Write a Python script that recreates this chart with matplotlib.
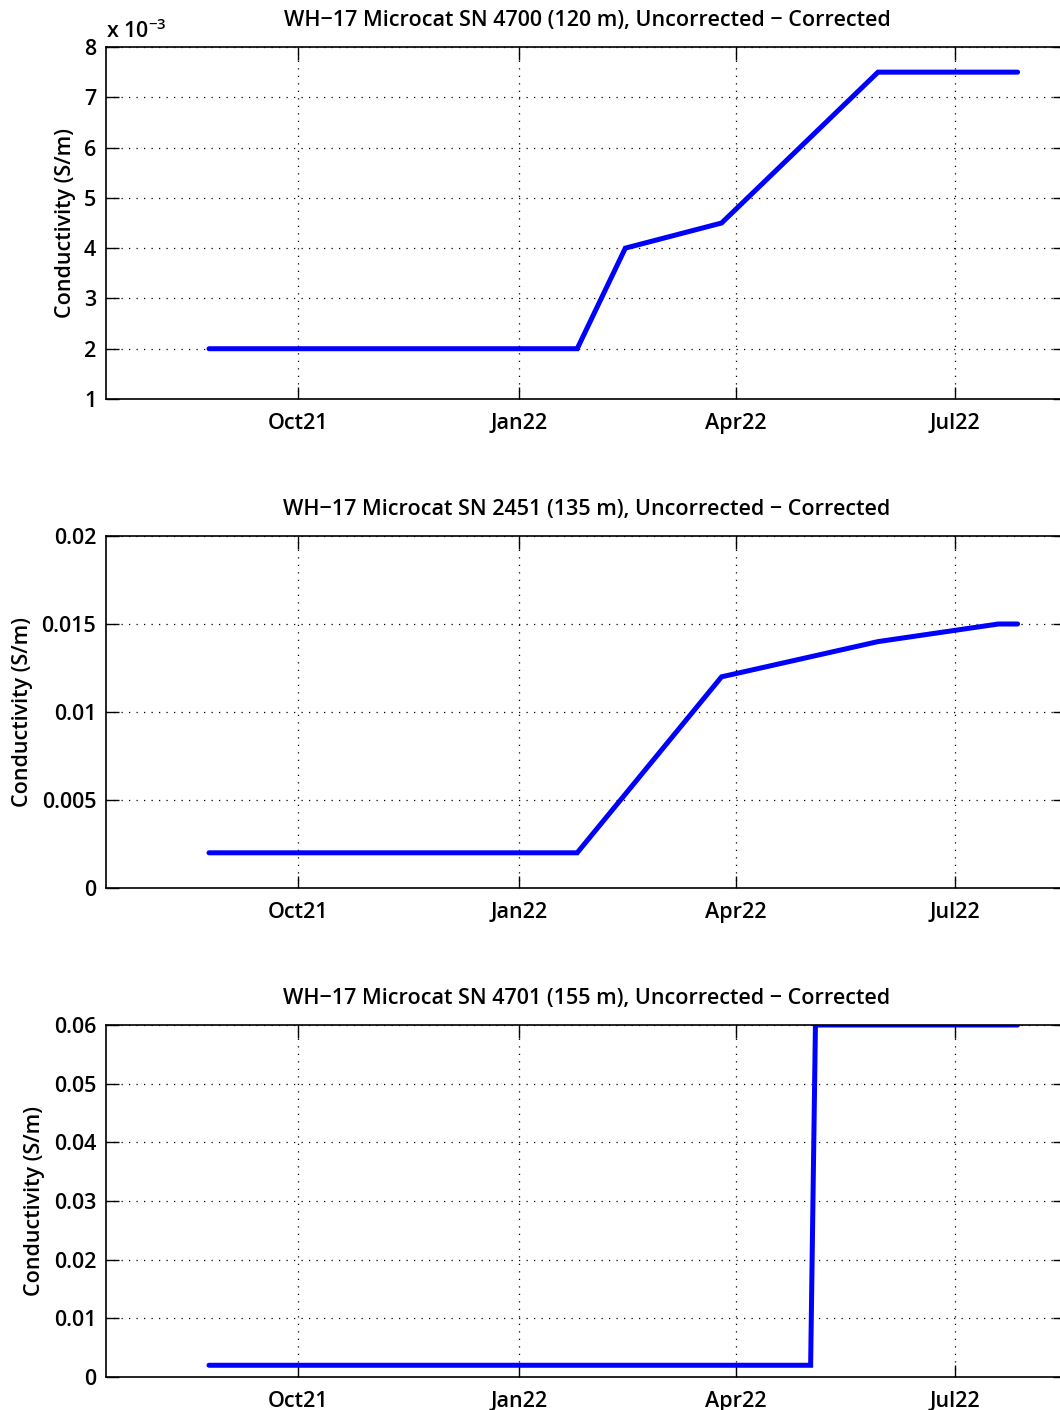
import numpy as np
import matplotlib
matplotlib.use("Agg")
import matplotlib.pyplot as plt
import matplotlib.dates as mdates
from matplotlib.ticker import FixedLocator, FuncFormatter

plt.rcParams['font.family'] = ['Open Sans', 'DejaVu Sans']
plt.rcParams['font.weight'] = 'semibold'
plt.rcParams['mathtext.fontset'] = 'custom'
plt.rcParams['mathtext.rm'] = 'Open Sans:semibold'
plt.rcParams['mathtext.default'] = 'rm'

# difference (uncorrected - corrected) per instrument
titles = [
    "WH\u221217 Microcat SN 4700 (120 m), Uncorrected \u2212 Corrected",
    "WH\u221217 Microcat SN 2451 (135 m), Uncorrected \u2212 Corrected",
    "WH\u221217 Microcat SN 4701 (155 m), Uncorrected \u2212 Corrected",
]

dates_4700 = ["2021-08-25", "2022-01-25", "2022-02-14", "2022-03-26", "2022-05-30", "2022-07-27"]
diff_4700 = [0.002, 0.002, 0.004, 0.0045, 0.0075, 0.0075]

dates_2451 = ["2021-08-25", "2022-01-25", "2022-03-26", "2022-05-30", "2022-07-19", "2022-07-27"]
diff_2451 = [0.002, 0.002, 0.012, 0.014, 0.015, 0.015]

dates_4701 = ["2021-08-25", "2022-05-02", "2022-05-04", "2022-07-27"]
diff_4701 = [0.002, 0.002, 0.06, 0.06]

yticks_4700 = [0.001, 0.002, 0.003, 0.004, 0.005, 0.006, 0.007, 0.008]
yticks_2451 = [0, 0.005, 0.01, 0.015, 0.02]
yticks_4701 = [0, 0.01, 0.02, 0.03, 0.04, 0.05, 0.06]

tick_dates = ["2021-10-01", "2022-01-01", "2022-04-01", "2022-07-01"]
tick_labels = ["Oct21", "Jan22", "Apr22", "Jul22"]

series = [
    (dates_4700, diff_4700, yticks_4700),
    (dates_2451, diff_2451, yticks_2451),
    (dates_4701, diff_4701, yticks_4701),
]

W, H = 1060, 1410
fig = plt.figure(figsize=(W / 100, H / 100), dpi=100)

x0 = mdates.datestr2num("2021-10-01")
xlim = (x0 - 79.8, x0 + 318.7)
tops = [47, 536, 1025]
ax_h = 352
fs = 15.5

def to_num(ds):
    return mdates.datestr2num(ds)

for i, (dts, vals, yt) in enumerate(series):
    top = tops[i]
    ax = fig.add_axes([106 / W, 1 - (top + ax_h) / H, (1065 - 106) / W, ax_h / H])
    ax.plot(to_num(dts), vals, color=(0, 0, 1), lw=3.6, solid_capstyle='round',
            solid_joinstyle='miter')
    ax.set_xlim(*xlim)
    ax.set_ylim(yt[0], yt[-1])
    ax.xaxis.set_major_locator(FixedLocator(to_num(tick_dates)))
    ax.set_xticklabels(tick_labels)
    ax.yaxis.set_major_locator(FixedLocator(yt))
    if i == 0:
        ax.yaxis.set_major_formatter(FuncFormatter(lambda v, p: f"{v * 1e3:.0f}"))
        ax.text(0, 1.012, "x 10$^{\u22123}$", transform=ax.transAxes,
                fontsize=fs, fontweight='semibold', ha='left', va='bottom')
    else:
        ax.yaxis.set_major_formatter(FuncFormatter(lambda v, p: f"{v:g}"))
    ax.grid(True, color='black', linestyle=(0, (1, 5)), linewidth=0.9)
    ax.tick_params(direction='in', length=9, width=1, top=True, right=True,
                   labelsize=fs, pad=7)
    ax.tick_params(axis='x', pad=10)
    for lab in ax.get_xticklabels() + ax.get_yticklabels():
        lab.set_fontweight('semibold')
    for s in ax.spines.values():
        s.set_linewidth(1.2)
    ax.set_title(titles[i], fontsize=fs, fontweight='semibold', pad=15,
                 x=(587 - 106) / (1065 - 106))
    ax.set_ylabel("Conductivity (S/m)", fontsize=fs, fontweight='semibold', labelpad=6)

fig.savefig("out.png", dpi=100)
